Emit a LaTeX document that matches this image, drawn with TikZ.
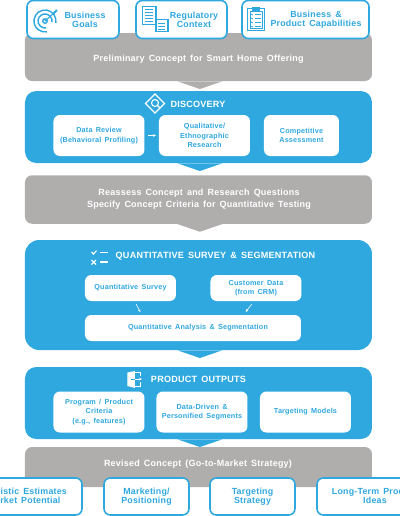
\documentclass[tikz,border=0pt]{standalone}
\usepackage{fontspec}
\setmainfont{Liberation Sans}[BoldFont=Liberation Sans Bold,WordSpace=1.5]
\definecolor{panelblue}{HTML}{2FA8DF}
\definecolor{panelgray}{HTML}{B0ADAD}
\newcommand{\bodytext}{\bfseries\fontsize{6.4pt}{8.2pt}\selectfont\addfontfeature{LetterSpace=2.5}}
\newcommand{\smalltext}{\bfseries\fontsize{5.15pt}{6.6pt}\selectfont\addfontfeature{LetterSpace=2.5}}
\newcommand{\goaltext}{\bfseries\fontsize{6.3pt}{6.6pt}\selectfont\addfontfeature{LetterSpace=2.5}}
\newcommand{\titletext}{\bfseries\fontsize{6.45pt}{8pt}\selectfont\addfontfeature{LetterSpace=2.5}}
\tikzset{
	boxsize/.style 2 args={minimum width=#1*0.025cm,minimum height=#2*0.025cm,inner sep=0pt},
	graypanel/.style={fill=panelgray,rounded corners=5pt,boxsize={347}{#1}},
	bluepanel/.style={fill=panelblue,rounded corners=8pt,boxsize={347}{#1}},
	innerbox/.style={fill=white,rounded corners=4.5pt,text=panelblue,align=center,font=\smalltext},
	outlinebox/.style={fill=white,draw=panelblue,line width=1.1pt,rounded corners=4.5pt,text=panelblue,align=center,font=\goaltext},
	goallabel/.style={text=panelblue,align=center,font=\goaltext,inner sep=0pt},
	paneltext/.style={text=white,align=center,font=\bodytext,inner sep=0pt},
	smallarrow/.style={draw=white,line width=0.4pt,-{Stealth[length=2pt,width=2pt]}},
	iconline/.style={draw=panelblue,line width=0.8pt},
	whiteline/.style={draw=white,line width=0.8pt}
}
\usetikzlibrary{arrows.meta}
\begin{document}
\begin{tikzpicture}[x=0.025cm,y=-0.025cm]
	\useasboundingbox (0,0) rectangle (400,516);
	\clip (0,0) rectangle (400,516);
	
	% panels
	\node[graypanel=48] (prelim) at (198.5,57) {};
	\node[bluepanel=72] (discovery) at (198.5,127) {};
	\node[graypanel=48.5] (reassess) at (198.5,199.5) {};
	\node[bluepanel=110,rounded corners=10pt] (quant) at (198.5,295) {};
	\node[bluepanel=72] (outputs) at (198.5,403) {};
	\node[graypanel=40] (revised) at (198.5,467) {};
	
	% panel tips
	\foreach \n/\c in {prelim/panelgray,discovery/panelblue,reassess/panelgray,quant/panelblue,outputs/panelblue}
	\fill[\c] ([xshift=-15pt]\n.south) -- ([xshift=1pt,yshift=-5.5pt]\n.south) -- ([xshift=17pt]\n.south) -- cycle;
	
	% top boxes
	\node[outlinebox,boxsize={92}{38}] (goals) at (73,19.5) {};
	\node[outlinebox,boxsize={91}{38}] (regulatory) at (181.5,19.5) {};
	\node[outlinebox,boxsize={127}{38}] (capabilities) at (305.5,19.5) {};
	\node[goallabel] (goalstext) at (85,20) {Business\\Goals};
	\node[goallabel] (regulatorytext) at (194,20) {Regulatory\\Context};
	\node[goallabel] (capabilitiestext) at (316,20) {Business \&\\Product Capabilities};
	
	% target
	\foreach \r in {11,7}
	\draw[iconline,line width=1pt] (45,21) ++(10:\r) arc[start angle=10,end angle=-280,radius=\r];
	\fill[panelblue] (45,21) circle (3);
	\fill[white] (45,21) circle (1.5);
	\draw[iconline] (45,21) -- (55,12);
	\draw[iconline,line width=1.4pt] (53,14) -- (57,10);
	
	% documents
	\draw[iconline,fill=white] (142.5,6.5) rectangle (156,24.5);
	\foreach \y in {9.5,12.5,...,21.5}
	\draw[panelblue,line width=0.6pt] (145,\y) -- (153,\y);
	\draw[iconline,fill=white] (156,19.5) rectangle (168,31.5);
	\foreach \y in {23,26,29}
	\draw[panelblue,line width=0.6pt] (158.5,\y) -- (165.5,\y);
	
	% clipboard
	\draw[iconline,line width=0.7pt] (247.5,8.5) rectangle (264.5,30.5);
	\draw[iconline,line width=0.5pt] (250,11) rectangle (262,28);
	\fill[panelblue] (252,7) rectangle (260,10.5);
	\foreach \y in {14,18,22,26}
	{
		\draw[panelblue,line width=0.5pt] (251,\y) -- (253,\y+1);
		\draw[panelblue,line width=0.5pt] (255,\y) -- (261,\y);
	}
	
	% discovery
	\node[paneltext,font=\titletext] (discoverytitle) at (198,104) {DISCOVERY};
	\draw[whiteline] (155,94) -- (164.5,103.5) -- (155,113) -- (145.5,103.5) -- cycle;
	\draw[whiteline] (155,103) circle (3.5);
	\draw[whiteline] (157.5,105.5) -- (160,108);
	\node[innerbox,boxsize={91}{41}] (review) at (99,135.5) {Data Review\\(Behavioral Profiling)};
	\node[innerbox,boxsize={91}{41}] (qualitative) at (204.5,135.5) {Qualitative/\\Ethnographic\\Research};
	\node[innerbox,boxsize={75}{41}] (competitive) at (301.5,135.5) {Competitive\\Assessment};
	\draw[smallarrow,shorten <=2pt,shorten >=2pt] (review) -- (qualitative);
	
	% reassess
	\node[paneltext] (reassesstext) at (199,199) {Reassess Concept and Research Questions\\Specify Concept Criteria for Quantitative Testing};
	\node[paneltext] (prelimtext) at (198.5,59) {Preliminary Concept for Smart Home Offering};
	
	% survey
	\node[paneltext,font=\titletext] (quanttitle) at (215.5,256) {QUANTITATIVE SURVEY \& SEGMENTATION};
	\draw[whiteline] (91.5,252) -- (93.5,254) -- (96.5,250.5);
	\draw[whiteline] (91.5,260) -- (96,264.5);
	\draw[whiteline] (96,260) -- (91.5,264.5);
	\foreach \y in {252.5,262}
	\draw[whiteline] (100.5,\y) -- (108,\y);
	\node[innerbox,boxsize={91}{26}] (survey) at (130.5,288) {Quantitative Survey};
	\node[innerbox,boxsize={91}{26}] (crm) at (256,288) {Customer Data\\(from CRM)};
	\node[innerbox,boxsize={216}{26}] (analysis) at (193,328) {};
	\node[text=panelblue,font=\smalltext,inner sep=0pt] (analysistext) at (198,328) {Quantitative Analysis \& Segmentation};
	\draw[smallarrow] ([xshift=4pt,yshift=-2pt]survey.south) -- ([xshift=-37.5pt,yshift=2pt]analysis.north);
	\draw[smallarrow] ([xshift=-3pt,yshift=-2pt]crm.south) -- ([xshift=37.5pt,yshift=2pt]analysis.north);
	
	% outputs
	\node[paneltext,font=\titletext] (outputstitle) at (198.5,379) {PRODUCT OUTPUTS};
	\fill[white] (127.5,372.5) -- (135,371) -- (135,388) -- (127.5,386) -- cycle;
	\draw[white,line width=0.5pt] (135,372.5) -- (140,372.5) -- (140,376);
	\draw[white,line width=0.5pt] (135,386) -- (140,386) -- (140,382);
	\draw[panelblue,line width=0.5pt] (131,379) -- (135,379);
	\draw[smallarrow,line width=0.5pt] (135,379) -- (142,379);
	\node[innerbox,boxsize={91}{41}] (program) at (99,412) {Program / Product\\Criteria\\(e.g., features)};
	\node[innerbox,boxsize={91}{41}] (segments) at (202,412) {Data-Driven \&\\Personified Segments};
	\node[innerbox,boxsize={91}{41}] (models) at (305.5,412) {Targeting Models};
	
	% revised
	\node[paneltext] (revisedtext) at (198,464) {Revised Concept (Go-to-Market Strategy)};
	
	% bottom boxes
	\node[outlinebox,boxsize={100}{37}] (estimates) at (32,496.5) {};
	\node[outlinebox,boxsize={85}{37}] (marketing) at (146.5,496.5) {Marketing/\\Positioning};
	\node[outlinebox,boxsize={85}{37}] (targeting) at (252.5,496.5) {Targeting\\Strategy};
	\node[outlinebox,boxsize={100}{37}] (ideas) at (367,496.5) {};
	\node[goallabel] (estimatestext) at (24,496) {Realistic Estimates\\Market Potential};
	\node[goallabel] (ideastext) at (375,496) {Long-Term Product\\Ideas};
\end{tikzpicture}
\end{document}
